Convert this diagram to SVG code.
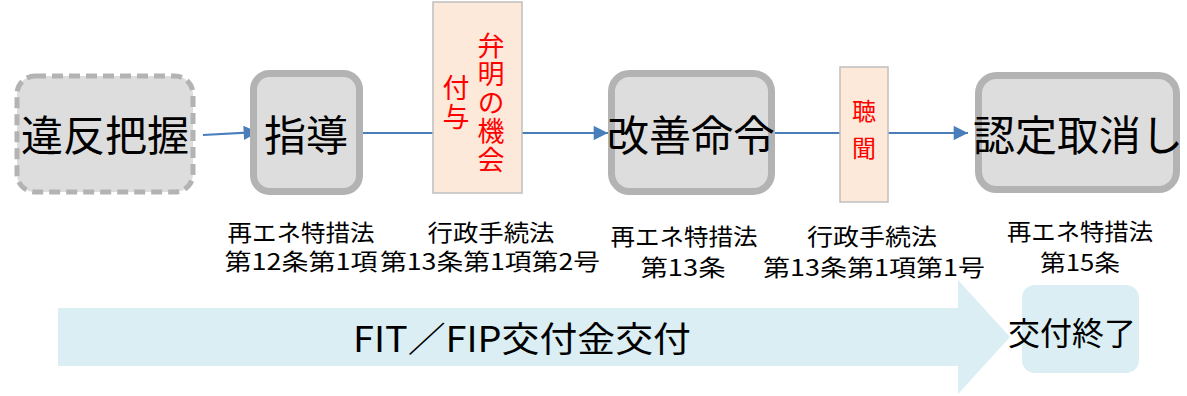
<svg xmlns="http://www.w3.org/2000/svg" width="1187" height="396" viewBox="0 0 1187 396">
<style>
.node{fill:#dddddd;stroke:#b3b3b3;stroke-width:7}
.dash{fill:#dddddd;stroke:#b3b3b3;stroke-width:5;stroke-dasharray:11 6}
.big{font-family:"Noto Sans CJK JP","Noto Sans",sans-serif;font-size:42px;fill:#000;text-anchor:middle}
.note{fill:#fde9d9;stroke:#bfbfbf;stroke-width:1.5}
.red{font-family:"Noto Sans CJK JP","Noto Sans",sans-serif;fill:#ff0000;text-anchor:middle;writing-mode:vertical-rl}
.lab{font-family:"Noto Sans CJK JP","Noto Sans",sans-serif;font-size:23px;fill:#000;text-anchor:middle}
.conn{stroke:#4a7ebb;stroke-width:2.2;fill:none}
.band{fill:#daeef3}
.bt{font-family:"Noto Sans CJK JP","Noto Sans",sans-serif;fill:#000;text-anchor:middle}
</style>
<defs>
<marker id="ah" viewBox="0 0 10 10" refX="10" refY="5" markerWidth="7" markerHeight="6.5" markerUnits="strokeWidth" orient="auto">
<path d="M0,0 L10,5 L0,10 z" fill="#4a7ebb"/>
</marker>
</defs>
<g id="band">
<path class="band" d="M58,308 L958,308 L958,280 L1010,337 L958,394 L958,366 L58,366 z"/>
<text class="bt" x="522" y="352" font-size="35" textLength="338" lengthAdjust="spacingAndGlyphs">FIT／FIP交付金交付</text>
</g>
<g id="end">
<rect class="band" x="1022" y="285" width="117" height="88" rx="13"/>
<text class="bt" x="1072" y="345" font-size="32">交付終了</text>
</g>
<g id="connectors">
<line class="conn" x1="203" y1="135" x2="258" y2="132" marker-end="url(#ah)"/>
<line class="conn" x1="363" y1="133" x2="433" y2="133"/>
<line class="conn" x1="522" y1="133" x2="608" y2="133" marker-end="url(#ah)"/>
<line class="conn" x1="775" y1="133" x2="840" y2="133"/>
<line class="conn" x1="888" y1="133" x2="968" y2="133" marker-end="url(#ah)"/>
</g>
<g id="n1">
<rect class="dash" x="17" y="76" width="176" height="116" rx="18"/>
<text class="big" x="105" y="151">違反把握</text>
</g>
<g id="n2">
<rect class="node" x="253.5" y="73.5" width="106" height="118" rx="16"/>
<text class="big" x="306" y="151">指導</text>
</g>
<g id="n3">
<rect class="node" x="611.5" y="73.5" width="160" height="118" rx="18"/>
<text class="big" x="691" y="151">改善命令</text>
</g>
<g id="n4">
<rect class="node" x="978.5" y="75.5" width="198" height="114" rx="18"/>
<text class="big" x="1078" y="151">認定取消し</text>
</g>
<g id="bemei">
<rect class="note" x="433" y="2" width="89" height="191"/>
<text class="red" x="491" y="103" font-size="27" letter-spacing="1.5">弁明の機会</text>
<text class="red" x="456" y="103" font-size="27" letter-spacing="1.5">付与</text>
</g>
<g id="choumon">
<rect class="note" x="840" y="67" width="48" height="135"/>
<text class="red" x="864" y="136" font-size="24" letter-spacing="13">聴聞</text>
</g>
<g id="labels">
<text class="lab" x="301" y="241" textLength="147" lengthAdjust="spacingAndGlyphs">再エネ特措法</text>
<text class="lab" x="301" y="270" textLength="153" lengthAdjust="spacingAndGlyphs">第12条第1項</text>
<text class="lab" x="491" y="241" textLength="127" lengthAdjust="spacingAndGlyphs">行政手続法</text>
<text class="lab" x="490" y="270" textLength="220" lengthAdjust="spacingAndGlyphs">第13条第1項第2号</text>
<text class="lab" x="684" y="245" textLength="147" lengthAdjust="spacingAndGlyphs">再エネ特措法</text>
<text class="lab" x="683" y="276" textLength="85" lengthAdjust="spacingAndGlyphs">第13条</text>
<text class="lab" x="872" y="245" textLength="130" lengthAdjust="spacingAndGlyphs">行政手続法</text>
<text class="lab" x="874" y="276" textLength="222" lengthAdjust="spacingAndGlyphs">第13条第1項第1号</text>
<text class="lab" x="1080" y="240" textLength="146" lengthAdjust="spacingAndGlyphs">再エネ特措法</text>
<text class="lab" x="1080" y="271" textLength="80" lengthAdjust="spacingAndGlyphs">第15条</text>
</g>
</svg>
